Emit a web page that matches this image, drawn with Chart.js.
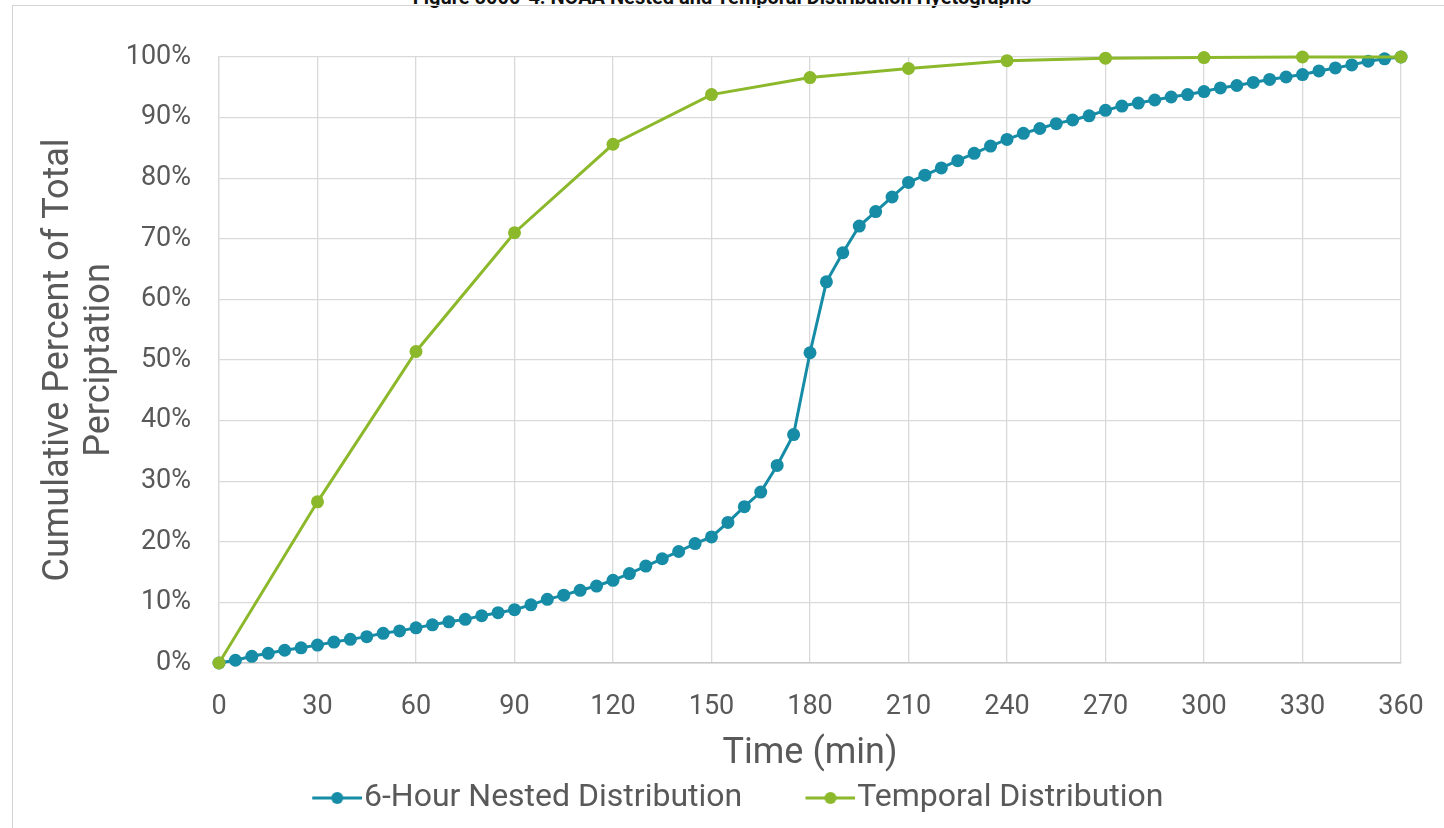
<!DOCTYPE html>
<html>
<head>
<meta charset="utf-8">
<script src="https://cdn.jsdelivr.net/npm/chart.js@4.4.1/dist/chart.umd.min.js"></script>
<style>
  body { margin: 0; background: #fff; }
  #wrap { position: relative; width: 1444px; height: 828px; overflow: hidden; }
  #frame { position: absolute; left: 12px; top: 5px; width: 1440px; height: 830px;
           border-left: 1px solid #d4d4d4; border-top: 1px solid #d4d4d4; }
  #title { position: absolute; left: 0; width: 1444px; top: -13px; text-align: center;
           font: bold 20px Roboto, sans-serif; color: #111; line-height: 20px; }
  canvas { position: absolute; left: 0; top: 0; }
</style>
</head>
<body>
<div id="wrap">
  <div id="title">Figure 5000-4: NOAA Nested and Temporal Distribution Hyetographs</div>
  <div id="frame"></div>
  <canvas id="hyetoChart" width="1444" height="828"></canvas>
</div>
<script>
// minutes and cumulative percent
const nestedTimes = [0, 5, 10, 15, 20, 25, 30, 35, 40, 45, 50, 55, 60, 65, 70, 75, 80, 85, 90, 95,
  100, 105, 110, 115, 120, 125, 130, 135, 140, 145, 150, 155, 160, 165, 170, 175, 180, 185, 190, 195,
  200, 205, 210, 215, 220, 225, 230, 235, 240, 245, 250, 255, 260, 265, 270, 275, 280, 285, 290, 295,
  300, 305, 310, 315, 320, 325, 330, 335, 340, 345, 350, 355, 360];
const nestedValues = [0, 0.45, 1.1, 1.6, 2.1, 2.5, 2.95, 3.45, 3.9, 4.35, 4.9, 5.3, 5.8, 6.3, 6.8, 7.2, 7.8, 8.3, 8.8, 9.6,
  10.5, 11.2, 12.0, 12.7, 13.65, 14.75, 16.0, 17.2, 18.4, 19.7, 20.8, 23.2, 25.8, 28.2, 32.6, 37.7, 51.2, 62.9, 67.7, 72.1,
  74.5, 76.9, 79.3, 80.5, 81.7, 82.9, 84.1, 85.3, 86.4, 87.4, 88.2, 89.0, 89.6, 90.3, 91.2, 91.9, 92.4, 92.9, 93.4, 93.8,
  94.3, 94.9, 95.3, 95.8, 96.3, 96.7, 97.1, 97.7, 98.2, 98.7, 99.3, 99.7, 100];
const temporalTimes = [0, 30, 60, 90, 120, 150, 180, 210, 240, 270, 300, 330, 360];
const temporalValues = [0, 26.6, 51.4, 71.0, 85.6, 93.8, 96.6, 98.1, 99.4, 99.8, 99.9, 100, 100];
const seriesNames = ['6-Hour Nested Distribution', 'Temporal Distribution'];
const yTitle = ['Cumulative Percent of Total', 'Perciptation'];
const xTitle = 'Time (min)';

const blue = '#168ca6';
const green = '#8cb82b';
const textGray = '#595959';

function toPoints(xs, ys) {
  return xs.map((x, i) => ({ x: x, y: ys[i] }));
}

// legend marker: line with a dot, sitting at the right end of a wider transparent canvas
// so the gap between legend entries can be wide while label padding stays small
const legendBox = 72.5;
function marker(color) {
  const c = document.createElement('canvas');
  c.width = Math.round(legendBox + 28);
  c.height = 14;
  const g = c.getContext('2d');
  const x0 = c.width - 50;
  g.strokeStyle = color;
  g.lineWidth = 3;
  g.beginPath();
  g.moveTo(x0, 7);
  g.lineTo(x0 + 50, 7);
  g.stroke();
  g.fillStyle = color;
  g.beginPath();
  g.arc(x0 + 25, 7, 6, 0, Math.PI * 2);
  g.fill();
  return c;
}
const markers = [marker(blue), marker(green)];

const ctx = document.getElementById('hyetoChart');

new Chart(ctx, {
  type: 'line',
  data: {
    datasets: [{
      label: seriesNames[0],
      data: toPoints(nestedTimes, nestedValues),
      borderColor: blue,
      backgroundColor: blue,
      pointBackgroundColor: blue,
      pointBorderWidth: 0,
      pointRadius: 6.5,
      borderWidth: 3,
      lineTension: 0,
      clip: false,
      order: 2
    }, {
      label: seriesNames[1],
      data: toPoints(temporalTimes, temporalValues),
      borderColor: green,
      backgroundColor: green,
      pointBackgroundColor: green,
      pointBorderWidth: 0,
      pointRadius: 6.5,
      borderWidth: 3,
      lineTension: 0,
      clip: false,
      order: 1
    }]
  },
  options: {
    responsive: false,
    animation: false,
    layout: { padding: { left: 38, top: 57, right: 43, bottom: 4 } },
    scales: {
      x: {
        type: 'linear',
        min: 0,
        max: 360,
        ticks: { stepSize: 30, padding: 28, color: textGray, font: { family: 'Roboto', size: 27 } },
        grid: { color: '#d9d9d9', lineWidth: 1.3, drawTicks: false },
        border: { color: '#c8c8c8', width: 1.5 },
        title: { display: true, text: xTitle, color: textGray, padding: { top: 0, bottom: -20 },
                 font: { family: 'Roboto', size: 36, lineHeight: 1.2 } },
        afterFit: s => { s.height = 92.5; s.paddingRight = 20; }
      },
      y: {
        min: 0,
        max: 100,
        ticks: { stepSize: 10, padding: 28, color: textGray, font: { family: 'Roboto', size: 27 },
                 callback: v => v + '%' },
        grid: { color: '#d9d9d9', lineWidth: 1.3, drawTicks: false },
        border: { color: '#d9d9d9', width: 1.3 },
        title: { display: true, text: yTitle, color: textGray, padding: { top: 0, bottom: 9 },
                 font: { family: 'Roboto', size: 36, lineHeight: 1.15 } },
        afterFit: s => { s.width = 181; }
      }
    },
    plugins: {
      tooltip: { enabled: false },
      legend: {
        position: 'bottom',
        labels: {
          usePointStyle: true,
          pointStyleWidth: legendBox,
          padding: 26.5,
          color: textGray,
          font: { family: 'Roboto', size: 32 },
          sort: (a, b) => a.datasetIndex - b.datasetIndex,
          generateLabels: function(chart) {
            const items = Chart.defaults.plugins.legend.labels.generateLabels(chart);
            items.forEach(it => { it.pointStyle = markers[it.datasetIndex]; });
            return items;
          }
        }
      }
    }
  }
});
</script>
</body>
</html>
